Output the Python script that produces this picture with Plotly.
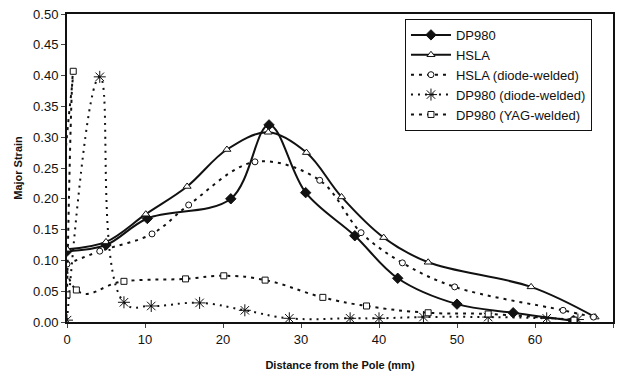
import plotly.graph_objects as go

dp980_x = [0, 5, 10.3, 21, 25.9, 30.6, 36.9, 42.4, 50, 57.2, 64.9]
dp980_y = [0.115, 0.125, 0.168, 0.20, 0.32, 0.21, 0.14, 0.071, 0.029, 0.015, 0.002]

hsla_x = [0, 5, 10.1, 15.4, 20.5, 25.8, 30.7, 35.2, 40.6, 46.3, 59.5, 67.7]
hsla_y = [0.118, 0.13, 0.175, 0.22, 0.28, 0.308, 0.275, 0.203, 0.137, 0.097, 0.057, 0.008]

hsla_diode_x = [0, 4.2, 10.9, 15.6, 24.1, 32.4, 37.7, 43, 49.7, 63.6, 67.5]
hsla_diode_y = [0.094, 0.115, 0.143, 0.19, 0.26, 0.23, 0.145, 0.096, 0.057, 0.019, 0.008]

dp980_diode_x = [0, 4.2, 7.3, 10.8, 17, 22.8, 28.5, 36.3, 40, 45.7, 54, 61.5, 65.5]
dp980_diode_y = [0.003, 0.398, 0.032, 0.026, 0.031, 0.019, 0.006, 0.006, 0.006, 0.008, 0.008, 0.006, 0.004]

dp980_yag_x = [0, 0.8, 1.2, 7.3, 15.2, 20.1, 25.4, 32.8, 38.4, 46.3, 54, 65]
dp980_yag_y = [0.044, 0.407, 0.052, 0.066, 0.07, 0.075, 0.068, 0.04, 0.026, 0.015, 0.013, 0.003]

x_ticks = [0, 10, 20, 30, 40, 50, 60, 70]
y_ticks = [0.0, 0.05, 0.10, 0.15, 0.20, 0.25, 0.30, 0.35, 0.40, 0.45, 0.50]

C = "#111111"
fig = go.Figure()

def add(name, x, y, symbol, dash, width, size, mcolor, smooth):
    fig.add_trace(go.Scatter(
        x=x, y=y, name=name, mode="lines+markers",
        line=dict(color=C, width=width, dash=dash, shape="spline", smoothing=smooth),
        marker=dict(symbol=symbol, size=size, color=mcolor,
                    line=dict(color=C, width=1)),
    ))

add("DP980", dp980_x, dp980_y, "diamond", "solid", 2, 8, C, 1.0)
add("HSLA", hsla_x, hsla_y, "triangle-up", "solid", 2, 7, "white", 1.0)
add("HSLA (diode-welded)", hsla_diode_x, hsla_diode_y, "circle", "3px,5px", 2, 6, "white", 1.0)
add("DP980 (diode-welded)", dp980_diode_x, dp980_diode_y, "asterisk-open", "2px,5px", 2, 10, C, 1.3)
add("DP980 (YAG-welded)", dp980_yag_x, dp980_yag_y, "square", "3px,5px", 2, 6, "white", 1.3)

fig.update_layout(
    width=620, height=372,
    margin=dict(l=67, r=7, t=14, b=50),
    paper_bgcolor="white", plot_bgcolor="white",
    font=dict(family="Liberation Sans, Arial, sans-serif", color="#111111", size=12),
    showlegend=True,
    legend=dict(x=0.619, y=0.984, xanchor="left", yanchor="top",
                bordercolor="#111111", borderwidth=1, bgcolor="white",
                font=dict(size=13), tracegroupgap=0, itemwidth=40),
)
fig.update_xaxes(range=[0, 70], tickvals=x_ticks, ticks="outside", ticklen=4,
                 showgrid=False, zeroline=False, showline=True, linecolor="#111111",
                 linewidth=2, mirror=True, tickfont=dict(size=13), automargin=False,
                 title=dict(text="<b>Distance from the Pole (mm)</b>", font=dict(size=11), standoff=16))
fig.update_yaxes(range=[0, 0.5], tickvals=y_ticks, tickformat=".2f", ticks="outside", ticklen=4,
                 showgrid=False, zeroline=False, showline=True, linecolor="#111111",
                 linewidth=2, mirror=True, tickfont=dict(size=13), automargin=False,
                 title=dict(text="<b>Major Strain</b>", font=dict(size=11), standoff=8))

fig.write_html("out.html")
